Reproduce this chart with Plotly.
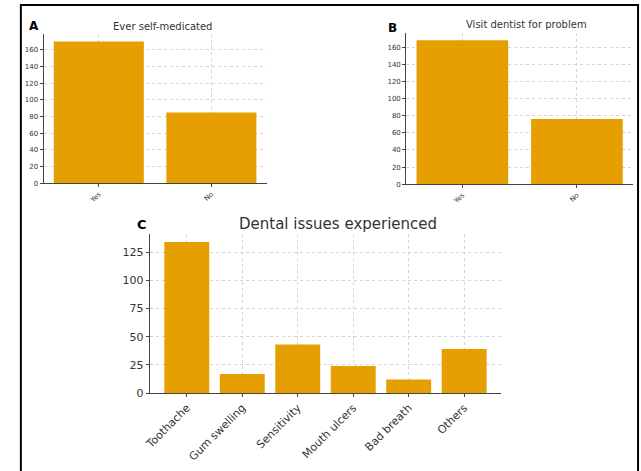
import plotly.graph_objects as go

# Survey responses
self_med_labels = ["Yes", "No"]
self_med_counts = [170, 85]

dentist_labels = ["Yes", "No"]
dentist_counts = [168, 76]

issue_labels = ["Toothache", "Gum swelling", "Sensitivity", "Mouth ulcers", "Bad breath", "Others"]
issue_counts = [134, 17, 43, 24, 12, 39]

BAR = "#E69F00"
W, H = 641, 471
FONT = "DejaVu Sans"


def px(x):
    return x / W


def py(y):
    return 1 - y / H


fig = go.Figure()
fig.add_trace(go.Bar(x=self_med_labels, y=self_med_counts, marker_color=BAR,
                     marker_line_width=0, width=0.8, xaxis="x", yaxis="y"))
fig.add_trace(go.Bar(x=dentist_labels, y=dentist_counts, marker_color=BAR,
                     marker_line_width=0, width=0.8, xaxis="x2", yaxis="y2"))
fig.add_trace(go.Bar(x=issue_labels, y=issue_counts, marker_color=BAR,
                     marker_line_width=0, width=0.81, xaxis="x3", yaxis="y3"))

grid = dict(showgrid=True, gridcolor="#d4d4d4", griddash="dot", gridwidth=1)
axis_line = dict(showline=True, linecolor="#444", linewidth=1,
                 ticks="outside", ticklen=3, tickcolor="#444", zeroline=False)


def xax(domain, anchor, n, size, angle):
    pad = 0.49 if n == 2 else 0.67
    return dict(domain=domain, anchor=anchor, type="category",
                range=[-pad, n - 1 + pad],
                tickangle=angle, tickfont=dict(family=FONT, size=size, color="#333"),
                **grid, **axis_line)


def yax(domain, anchor, top, dtick, size):
    return dict(domain=domain, anchor=anchor, range=[0, top], dtick=dtick,
                tickfont=dict(family=FONT, size=size, color="#333"),
                **grid, **axis_line)


fig.update_layout(
    width=W, height=H, margin=dict(l=0, r=0, t=0, b=0),
    paper_bgcolor="white", plot_bgcolor="white", showlegend=False,
    xaxis=xax([px(38), px(263)], "y", 2, 7, -45),
    yaxis=yax([py(186), py(35)], "x", max(self_med_counts) * 1.05, 20, 7),
    xaxis2=xax([px(404), px(633)], "y2", 2, 7, -45),
    yaxis2=yax([py(187), py(33.5)], "x2", max(dentist_counts) * 1.05, 20, 7),
    xaxis3=xax([px(145), px(500)], "y3", 6, 11, -45),
    yaxis3=yax([py(399), py(238)], "x3", max(issue_counts) * 1.05, 25, 11),
)

# Outer frame (its bottom edge runs past the page)
fig.add_shape(type="rect", xref="paper", yref="paper",
              x0=px(15), x1=px(638), y0=-0.1, y1=py(5),
              line=dict(color="black", width=2), fillcolor="rgba(0,0,0,0)")

texts = [
    (158, 27, "Ever self-medicated", 10, "#333"),
    (525, 25, "Visit dentist for problem", 10, "#333"),
    (335, 227, "Dental issues experienced", 15, "#333"),
    (28, 26, "<b>A</b>", 12, "black"),
    (390, 28, "<b>B</b>", 12, "black"),
    (137, 228, "<b>C</b>", 13, "black"),
]
for x, y, t, s, c in texts:
    fig.add_annotation(x=px(x), y=py(y), xref="paper", yref="paper", text=t,
                       showarrow=False, xanchor="center", yanchor="middle",
                       font=dict(family=FONT, size=s, color=c))

fig.write_html("out.html")
